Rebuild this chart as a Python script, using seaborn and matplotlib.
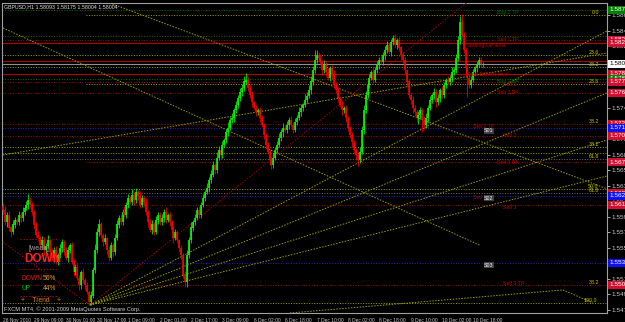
import matplotlib
matplotlib.use("Agg")
import matplotlib.pyplot as plt
import seaborn as sns
import pandas as pd

sns.set_style("dark", {"axes.facecolor": "black", "figure.facecolor": "black"})
NARROW = ['Liberation Sans Narrow', 'Liberation Sans', 'DejaVu Sans']
plt.rcParams['font.family'] = NARROW

# ---------------- data (GBPUSD H1) ----------------
first_open = 1.5612
closes = [
    1.5607,1.5591,1.5601,1.5584,1.5578, 1.5588,1.5594,1.5591,1.5601,1.5597,1.5605, 1.5610,1.5614,1.5620,1.5615,
    1.5605,1.5588,1.5574, 1.5570,1.5561,1.5567,1.5554,1.5560, 1.5567,1.5552,1.5544,1.5554,1.5539,
    1.5548,1.5557,1.5565,1.5552,1.5544, 1.5554,1.5561,1.5539,1.5525, 1.5531,1.5517,1.5508,1.5525,1.5515,
    1.5508,1.5499,1.5486,1.5494, 1.5528,1.5554,1.5578,1.5588,1.5574, 1.5565,1.5570,1.5554,1.5544,1.5561,1.5552,
    1.5570,1.5588,1.5597,1.5591,1.5605, 1.5601,1.5614,1.5623,1.5618,1.5627, 1.5620,1.5631,1.5626,1.5614,1.5623,1.5618,
    1.5605,1.5591,1.5581,1.5588,1.5578,1.5594, 1.5601,1.5591,1.5597,1.5605,1.5594,1.5601,
    1.5591,1.5581,1.5570,1.5578,1.5567,1.5557, 1.5548,1.5521,1.5512, 1.5548,1.5567,1.5584,1.5591,1.5597,1.5607,
    1.5601,1.5614,1.5623,1.5631,1.5636,1.5647, 1.5654,1.5667,1.5660,1.5676,1.5687,1.5680,
    1.5693,1.5700,1.5710,1.5716,1.5726,1.5729, 1.5739,1.5746,1.5755,1.5763,1.5769,1.5777,1.5779,
    1.5769,1.5759,1.5750,1.5742,1.5737,1.5739, 1.5729,1.5720,1.5706,1.5693,1.5684, 1.5673,1.5667,1.5676,1.5687,1.5693,
    1.5702,1.5710,1.5716,1.5713,1.5720,1.5726, 1.5720,1.5713,1.5724,1.5729,1.5737,1.5742,
    1.5746,1.5753,1.5758,1.5766,1.5777, 1.5792,1.5806,1.5812,1.5808,1.5803, 1.5792,1.5799,1.5790,1.5782,1.5795,1.5787,
    1.5773,1.5766,1.5755,1.5746,1.5739,1.5742, 1.5729,1.5716,1.5706,1.5697,1.5687,1.5680,1.5673,
    1.5684,1.5713,1.5739,1.5759,1.5773, 1.5782,1.5790,1.5779,1.5792,1.5799,1.5806,
    1.5803,1.5812,1.5819,1.5825,1.5816,1.5829, 1.5835,1.5825,1.5832,1.5822,1.5812,
    1.5806,1.5792,1.5777,1.5759,1.5753, 1.5742,1.5737,1.5729,1.5733,1.5739,1.5726,
    1.5720,1.5729,1.5742,1.5753,1.5759, 1.5763,1.5750,1.5755,1.5766,1.5759,
    1.5773,1.5779,1.5777,1.5782,1.5790,1.5792, 1.5808,1.5832,1.5856, 1.5839,1.5819,1.5795,1.5782,1.5773,
    1.5779,1.5790,1.5795,1.5799,1.5806,1.5800,1.58004,
]
# wick lengths in pips (0.0001)
upper_wick = [
    4,6,3,5,2,6,4,3,5,4, 6,3,5,8,4,3,2,4,5,3, 6,4,3,7,2,5,4,6,3,5, 4,3,6,5,2,4,3,5,6,4,
    3,5,2,4,3,6,4,8,5,7, 4,3,6,2,5,4,3,5,6,4, 5,3,7,4,6,3,8,4,5,3, 6,4,3,5,2,4,6,3,5,4,
    3,5,4,6,2,4,3,5,4,3, 2,4,3,5,6,4,7,3,5,4, 6,4,5,3,7,4,6,5,3,8, 5,4,6,3,5,7,4,6,3,5,
    4,6,5,7,9,4,3,5,2,4, 3,5,4,2,3,4,3,5,6,4, 5,7,4,6,3,5,4,6,3,5, 4,6,5,3,7,5,6,8,6,13,
    7,4,5,3,6,4,5,3,4,5, 3,4,2,5,3,4,3,2,4,3, 2,4,6,5,7,6,4,5,3,6, 4,5,3,6,4,5,6,3,5,4,
    5,3,4,2,4,3,2,4,3,5, 4,3,5,4,3,5,6,4,5,3, 6,4,5,3,5,4,3,5,4,6, 4,5,6,8,10,3,2,3,4,5,
    4,3,5,4,3,2,
]
lower_wick = [
    5,3,6,4,7,3,5,4,3,6, 4,5,3,6,4,5,6,3,4,5, 3,6,4,3,5,4,6,3,5,4, 5,4,3,6,4,3,5,4,3,6,
    5,4,6,3,4,5,3,4,3,5, 4,6,3,5,4,3,6,4,3,5, 3,4,3,5,4,3,4,6,3,5, 4,3,5,4,6,3,5,4,3,5,
    4,3,5,4,3,5,4,6,3,4, 5,6,4,7,6,4,3,5,4,3, 4,5,3,4,3,5,4,3,5,4, 3,5,4,3,4,5,3,4,5,3,
    4,3,5,4,3,5,4,6,3,5, 4,6,3,5,4,3,6,5,4,3, 5,3,4,6,3,4,5,3,4,3, 4,3,5,4,3,4,3,5,4,3,
    5,4,3,6,4,5,3,4,6,5, 4,5,3,6,4,5,4,3,6,5, 6,7,4,3,5,3,4,5,3,4, 3,4,5,3,4,6,4,3,5,4,
    3,5,4,6,4,5,6,4,5,6, 5,6,8,5,16,6,4,5,3,4, 5,6,4,5,3,4,5,3,4,5, 4,3,4,5,3,4,6,25,4,5,
    3,4,5,3,4,3,
]

price_ticks = [1.54750, 1.54955, 1.55160, 1.55365, 1.55570, 1.55775, 1.55980, 1.56185, 1.56390,
               1.56595, 1.56800, 1.57005, 1.57210, 1.57415, 1.57620, 1.57825, 1.58030, 1.58235,
               1.58440, 1.58645]
date_pos = [0, 16, 32, 48, 64, 80, 96, 112, 128, 144, 160, 176, 192, 208, 224, 240]
date_labels = ["26 Nov 2010", "29 Nov 09:00", "30 Nov 01:00", "30 Nov 17:00", "1 Dec 09:00",
               "2 Dec 01:00", "2 Dec 17:00", "3 Dec 09:00", "6 Dec 02:00", "6 Dec 18:00",
               "7 Dec 10:00", "8 Dec 02:00", "8 Dec 18:00", "9 Dec 10:00", "10 Dec 02:00",
               "10 Dec 18:00"]

# horizontal levels: price, colour, style, start bar
h_prices = [1.58718, 1.58652, 1.58374, 1.58321, 1.58281, 1.58123, 1.58043, 1.58004, 1.57964,
            1.57871, 1.57805, 1.57766, 1.57739, 1.57620, 1.57210, 1.57157, 1.57051, 1.56906,
            1.56827, 1.56747, 1.56707, 1.56350, 1.56297, 1.56258, 1.56139, 1.55372, 1.55081,
            1.54843]
h_colors = ["#007000", "#a0a000", "#007000", "#a00000", "#b00000", "#a0a000", "#b00000", "#909090",
            "#a0a000", "#b00000", "#007000", "#a00000", "#a0a000", "#a00000", "#a00000", "#2020d0",
            "#a00000", "#a0a000", "#a0a000", "#707070", "#a00000", "#a0a000", "#707070", "#2020d0",
            "#a00000", "#2020d0", "#a00000", "#a0a000"]
h_styles = [":", ":", ":", ":", "-", ":", "-", "-", ":", "-", ":", ":", ":", ":", ":", ":",
            ":", ":", ":", ":", ":", ":", ":", ":", ":", ":", ":", ":"]
h_start = [0, 43, 0, 0, 0, 0, 0, 0, 0, 0, 0, 0, 43, 0, 0, 0,
           0, 0, 0, 0, 43, 0, 0, 0, 0, 0, 0, 0]

# trend / fan lines: (bar0, price0, bar1, price1, colour)
d_x0 = [53.1, 0, 44.4, 44.4, 44.4, 44.4, 44.4, 0, 0, 146.4, 285.7]
d_p0 = [1.58824, 1.58480, 1.54816, 1.54816, 1.54816, 1.54816, 1.54816, 1.55644, 1.56800, 1.54710, 1.55015]
d_x1 = [308.2, 243.4, 238.3, 308.2, 308.2, 308.2, 308.2, 44.4, 308.2, 285.7, 301.0]
d_p1 = [1.56353, 1.55604, 1.58850, 1.58440, 1.57620, 1.56998, 1.56522, 1.54816, 1.58149, 1.55015, 1.54843]
d_col = ["#a0a000", "#a0a000", "#a00000", "#a0a000", "#a0a000", "#a0a000", "#a0a000", "#a00000",
         "#a0a000", "#a0a000", "#a0a000"]

# ---------------- figure ----------------
W, H = 625, 322
fig = plt.figure(figsize=(W / 100, H / 100), dpi=100)
fig.patch.set_facecolor("black")
ax = fig.add_axes([2 / W, (322 - 313) / H, 605 / W, 310 / H])
ax.set_facecolor("black")

df = pd.DataFrame({"close": closes, "uw": upper_wick, "lw": lower_wick})
df["open"] = [first_open] + closes[:-1]
df["bar"] = range(len(df))
df["up"] = df["close"] >= df["open"]
df["body_lo"] = df[["open", "close"]].min(axis=1)
df["body_hi"] = df[["open", "close"]].max(axis=1)
df["high"] = df["body_hi"] + df["uw"] * 0.0001
df["low"] = df["body_lo"] - df["lw"] * 0.0001
df["color"] = df["up"].map({True: "#00ff00", False: "#ff0000"})

ax.vlines(df["bar"], df["low"], df["high"], colors=df["color"], lw=0.55, zorder=5)
ax.vlines(df["bar"], df["body_lo"], df["body_hi"] + 0.00002, colors=df["color"], lw=1.2, zorder=6)

for p, c, s, st in zip(h_prices, h_colors, h_styles, h_start):
    ax.hlines(p, st - 0.5, 310, color=c, ls=s, lw=0.7 if s == ":" else 0.8, zorder=2)

for x0, p0, x1, p1, c in zip(d_x0, d_p0, d_x1, d_p1, d_col):
    ax.plot([x0, x1], [p0, p1], color=c, ls=(0, (1.5, 1.5)), lw=0.7, zorder=3)

ax.set_xlim(-0.5, 308.2)
ax.set_ylim(1.54710, 1.58810)

for s in ax.spines.values():
    s.set_color("#a0a0a0")
    s.set_linewidth(0.8)
ax.yaxis.tick_right()
ax.set_yticks(price_ticks)
ax.set_yticklabels([f"{v:.5f}" for v in price_ticks])
ax.tick_params(axis="y", colors="#c8c8c8", labelsize=4.6, length=2, pad=1.5, width=0.6)
ax.set_xticks(date_pos)
ax.set_xticklabels(date_labels, ha="left")
ax.tick_params(axis="x", colors="#c8c8c8", labelsize=3.5, length=2, pad=1.5, width=0.6)
ax.grid(False)

box_prices = [1.58718, 1.58321, 1.58281, 1.57871, 1.57805, 1.57766, 1.57620, 1.57210, 1.57157,
              1.57051, 1.56707, 1.56297, 1.56258, 1.56139, 1.55372, 1.55081]
box_colors = ["#008000", "#d01030", "#d01030", "#d01030", "#008000", "#d01030", "#d01030", "#d01030",
              "#1010f0", "#d01030", "#d01030", "#d01030", "#1010f0", "#d01030", "#1010f0", "#d01030"]
for p, c in zip(box_prices, box_colors):
    ax.text(1.004, p, f"{p:.5f}", transform=ax.get_yaxis_transform(), color="white",
            fontsize=4.6, va="center", ha="left",
            bbox=dict(boxstyle="square,pad=0.2", fc=c, ec="none"), clip_on=False, zorder=10)
ax.text(1.004, 1.58004, "1.58004", transform=ax.get_yaxis_transform(), color="black",
        fontsize=4.6, va="center", ha="left",
        bbox=dict(boxstyle="square,pad=0.2", fc="white", ec="none"), clip_on=False, zorder=10)

fib_x = [304, 304, 304, 304, 304, 304, 304, 304, 304, 304, 303]
fib_p = [1.58652, 1.58123, 1.57964, 1.57739, 1.57210, 1.56906, 1.56747, 1.56350, 1.56297, 1.55081, 1.54843]
fib_t = ["0.0", "23.6", "38.2", "23.6", "38.2", "38.2", "61.8", "50.0", "61.8", "38.2", "100.0"]
for x, p, t in zip(fib_x, fib_p, fib_t):
    ax.text(x, p, t, color="#c8c800", fontsize=3.8, ha="right", va="bottom", zorder=8)

lab_x = [252, 252, 237, 237, 252, 255, 252, 240, 255, 252, 255, 255, 240]
lab_p = [1.58690, 1.58321, 1.58250, 1.57860, 1.57766, 1.57730, 1.57620, 1.57170, 1.57051, 1.56700, 1.56110, 1.55100, 1.56240]
lab_t = ["Buy 2 TP", "Sell 1 TP", "Trailing UP level", "Stop DOWN level", "Buy 1 BA", "Sell 1",
         "Sell 2 BA", "Sell 2 TP", "Sell 2", "Sell 3 BA", "Sell 3", "Sell 3 TP", "Sell 2 TP"]
lab_c = ["#007000", "#c00000", "#c00000", "#c00000", "#007000", "#c00000", "#c00000", "#c00000",
         "#c00000", "#c00000", "#c00000", "#c00000", "#c00000"]
for x, p, t, c in zip(lab_x, lab_p, lab_t, lab_c):
    ax.text(x, p, t, color=c, fontsize=3.8, ha="left", va="center", zorder=8)

# stop-order tags
tag_x = [245.5, 245.5, 245.5]
tag_p = [1.57120, 1.56230, 1.55340]
tag_t = ["S01", "S02", "S03"]
for x, p, t in zip(tag_x, tag_p, tag_t):
    ax.text(x, p, t, color="#f0f0f0", fontsize=3.8, ha="left", va="center", zorder=9,
            bbox=dict(boxstyle="square,pad=0.1", fc="#404040", ec="none"))

# signal panel separators
panel_y = [239, 269, 296]
for yy in panel_y:
    fig.add_artist(plt.Line2D([20 / W, 58 / W], [1 - yy / H, 1 - yy / H], color="#a00000",
                              ls=(0, (1.5, 1.5)), lw=0.7))

REG = ['Liberation Sans', 'DejaVu Sans']
fig.text(4 / W, 1 - 7 / H, "GBPUSD,H1 1.58093 1.58175 1.58004 1.58004", color="#e0e0e0", fontsize=3.8, va="center")
fig.text(4 / W, 1 - 309 / H, "FXCM MT4, \u00a9 2001-2009 MetaQuotes Software Corp.", color="#d0d0d0", fontsize=4.1, va="center")
fig.text(29 / W, 1 - 248 / H, "[weak]", color="#a0a0a0", fontsize=5.2, va="center", family=REG)
fig.text(24 / W, 1 - 259 / H, "DOWN", color="#ff2020", fontsize=8.5, fontweight="bold", va="center", family=NARROW)
fig.text(21 / W, 1 - 278 / H, "DOWN", color="#e02020", fontsize=4.8, va="center", family=REG)
fig.text(43 / W, 1 - 278 / H, "56%", color="#d0a040", fontsize=4.8, va="center", family=REG)
fig.text(21 / W, 1 - 288 / H, "UP", color="#00c000", fontsize=4.8, va="center", family=REG)
fig.text(43 / W, 1 - 288 / H, "44%", color="#d0a040", fontsize=4.8, va="center", family=REG)
fig.text(21 / W, 1 - 300 / H, "+    Trend    +", color="#e08020", fontsize=4.8, va="center", family=REG)

fig.savefig("out.png", dpi=100, facecolor="black")
